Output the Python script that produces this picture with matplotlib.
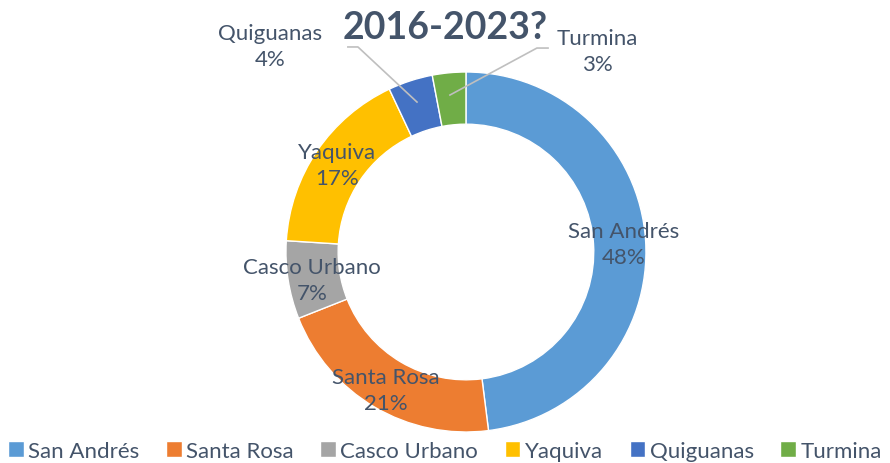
import matplotlib.pyplot as plt

# Datos del grafico
municipios = ["San Andrés", "Santa Rosa", "Casco Urbano", "Yaquiva", "Quiguanas", "Turmina"]
porcentajes = [48, 21, 7, 17, 4, 3]
colores = ["#5b9bd5", "#ed7d31", "#a5a5a5", "#ffc000", "#4472c4", "#70ad47"]

# Posiciones de las etiquetas (coordenadas del eje, radio = 1)
pos_etiquetas = [(0.878, 0.044), (-0.444, -0.767), (-0.856, -0.156),
                 (-0.717, 0.483), (-1.089, 1.144), (0.728, 1.117)]

texto_color = "#44546a"
plt.rcParams["font.family"] = ["Lato", "DejaVu Sans"]

fig = plt.figure(figsize=(8.9, 4.64), dpi=100)
ax = fig.add_axes([0.3213, 0.0668, 0.4045, 0.7759])
ax.axis("off")

cunas, _ = ax.pie(porcentajes, colors=colores, startangle=90, counterclock=False,
                  radius=1, wedgeprops=dict(width=0.29, edgecolor="white", linewidth=1))
ax.set_xlim(-1, 1)
ax.set_ylim(-1, 1)
ax.set_aspect("equal")

for nombre, p, (x, y) in zip(municipios, porcentajes, pos_etiquetas):
    ax.text(x, y, f"{nombre}\n{p}%", ha="center", va="center", fontsize=16,
            color=texto_color, linespacing=1.4)

# Lineas guia para las porciones pequenas
gris = "#bfbfbf"
ax.plot([-0.656, -0.600, -0.272], [1.139, 1.139, 0.833], color=gris, lw=1.2, clip_on=False)
ax.plot([0.456, 0.394, -0.089], [1.133, 1.133, 0.872], color=gris, lw=1.2, clip_on=False)

fig.text(0.50, 0.94, "2016-2023?", ha="center", va="center", fontsize=27,
         fontweight="bold", color=texto_color)

fig.legend(cunas, municipios, loc="lower center", ncol=6, frameon=False,
           fontsize=16, handlelength=0.7, handleheight=0.7, handletextpad=0.2,
           columnspacing=1.2, bbox_to_anchor=(0.5, -0.038), labelcolor=texto_color)

fig.savefig("out.png", dpi=100)
